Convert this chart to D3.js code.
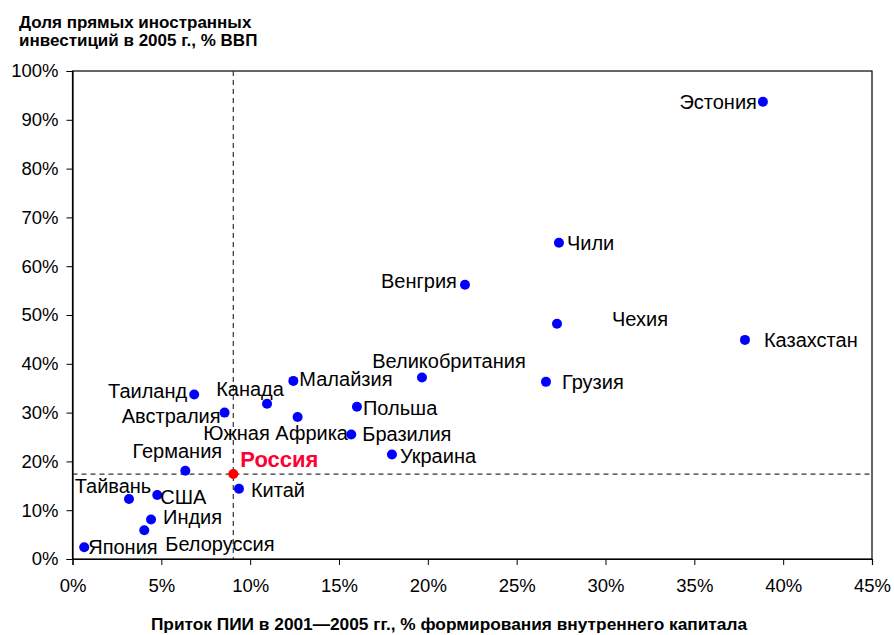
<!DOCTYPE html>
<html>
<head>
<meta charset="utf-8">
<script src="https://cdn.jsdelivr.net/npm/d3@7"></script>
<style>
  body { margin: 0; background: #fff; }
  svg { display: block; font-family: "Liberation Sans", Arial, sans-serif; }
</style>
</head>
<body>
<div id="chart"></div>
<script>
// Страны и значения (x — приток ПИИ 2001–2005, % формирования капитала; y — накопленные ПИИ 2005, % ВВП)
const countries = ['Эстония', 'Чили', 'Венгрия', 'Чехия', 'Казахстан', 'Великобритания', 'Грузия',
  'Малайзия', 'Таиланд', 'Канада', 'Австралия', 'Польша', 'Южная Африка', 'Бразилия', 'Украина',
  'Германия', 'Россия', 'Китай', 'США', 'Тайвань', 'Индия', 'Белоруссия', 'Япония'];
const inflowShare = [38.86, 27.38, 22.09, 27.27, 37.85, 19.67, 26.65,
  12.43, 6.85, 10.95, 8.56, 16.01, 12.67, 15.69, 17.98,
  6.35, 9.05, 9.37, 4.77, 3.18, 4.42, 4.04, 0.66];
const stockShare = [93.7, 64.8, 56.2, 48.2, 44.9, 37.2, 36.3,
  36.5, 33.7, 31.8, 30.0, 31.2, 29.1, 25.5, 21.4,
  18.1, 17.4, 14.4, 13.1, 12.3, 8.1, 5.9, 2.4];
const highlight = 'Россия';
const xTicks = [0, 5, 10, 15, 20, 25, 30, 35, 40, 45];
const yTicks = [0, 10, 20, 30, 40, 50, 60, 70, 80, 90, 100];
const yTitle = ['Доля прямых иностранных', 'инвестиций в 2005 г., % ВВП'];
const xTitle = 'Приток ПИИ в 2001—2005 гг., % формирования внутреннего капитала';

// размещение подписей: [dx, dy, якорь]
const labelPos = {
  'Эстония': [-6, 0, 'end'], 'Чили': [8, 0, 'start'], 'Венгрия': [-8, -4, 'end'],
  'Чехия': [55, -5, 'start'], 'Казахстан': [19, 0, 'start'], 'Великобритания': [27, -16, 'middle'],
  'Грузия': [16, 0, 'start'], 'Малайзия': [6, -2, 'start'], 'Таиланд': [-7, -4, 'end'],
  'Канада': [-17, -15, 'middle'], 'Австралия': [-4, 3, 'end'], 'Польша': [6, 1, 'start'],
  'Южная Африка': [-22, 16, 'middle'], 'Бразилия': [11, -1, 'start'], 'Украина': [8, 1, 'start'],
  'Германия': [-8, -20, 'middle'], 'Россия': [7, -15, 'start'], 'Китай': [12, 1, 'start'],
  'США': [3, 2, 'start'], 'Тайвань': [-16, -13, 'middle'], 'Индия': [12, -2, 'start'],
  'Белоруссия': [21, 14, 'start'], 'Япония': [4, 0, 'start']
};

const width = 894, height = 635;
const margin = { top: 71, right: 22, bottom: 76, left: 72.5 };

const svg = d3.select('#chart').append('svg')
  .attr('width', width)
  .attr('height', height);

const x = d3.scaleLinear().domain([0, 45]).range([margin.left, width - margin.right]);
const y = d3.scaleLinear().domain([0, 100]).range([height - margin.bottom, margin.top]);

const points = countries.map((c, i) => ({ name: c, x: inflowShare[i], y: stockShare[i] }));
const rus = points.find(p => p.name === highlight);

// рамка
svg.append('rect')
  .attr('x', x(0)).attr('y', y(100))
  .attr('width', x(45) - x(0)).attr('height', y(0) - y(100))
  .attr('fill', 'none').attr('stroke', '#000').attr('stroke-width', 1.2);

// пунктир через Россию
svg.append('line')
  .attr('x1', x(rus.x)).attr('x2', x(rus.x))
  .attr('y1', y(100)).attr('y2', y(0))
  .attr('stroke', '#333').attr('stroke-width', 1.2).attr('stroke-dasharray', '5,4');
svg.append('line')
  .attr('x1', x(0)).attr('x2', x(45))
  .attr('y1', y(rus.y)).attr('y2', y(rus.y))
  .attr('stroke', '#333').attr('stroke-width', 1.2).attr('stroke-dasharray', '5,4');

// оси
const xAxis = svg.append('g')
  .attr('transform', `translate(0,${y(0)})`)
  .call(d3.axisBottom(x).tickValues(xTicks).tickSize(6).tickPadding(14).tickFormat(d => d + '%'));
const yAxis = svg.append('g')
  .attr('transform', `translate(${x(0)},0)`)
  .call(d3.axisLeft(y).tickValues(yTicks).tickSize(6).tickPadding(8).tickFormat(d => d + '%'));
[xAxis, yAxis].forEach(g => {
  g.select('.domain').attr('stroke', '#000').attr('stroke-width', 1.2);
  g.selectAll('.tick line').attr('stroke', '#000');
  g.selectAll('.tick text')
    .attr('font-family', '"Liberation Sans", Arial, sans-serif')
    .attr('font-size', 18.5).attr('fill', '#000');
});

// точки
svg.selectAll('circle.pt')
  .data(points)
  .enter().append('circle')
  .attr('class', 'pt')
  .attr('cx', d => x(d.x))
  .attr('cy', d => y(d.y))
  .attr('r', 5)
  .attr('fill', d => d.name === highlight ? '#ff0000' : '#0000ff');

// подписи
svg.selectAll('text.lbl')
  .data(points)
  .enter().append('text')
  .attr('class', 'lbl')
  .attr('x', d => x(d.x) + labelPos[d.name][0])
  .attr('y', d => y(d.y) + labelPos[d.name][1])
  .attr('dy', '0.35em')
  .attr('text-anchor', d => labelPos[d.name][2])
  .attr('font-size', d => d.name === highlight ? 22 : 20)
  .attr('font-weight', d => d.name === highlight ? 'bold' : 'normal')
  .attr('fill', d => d.name === highlight ? '#ff0033' : '#000')
  .text(d => d.name);

// заголовки осей
svg.append('text')
  .attr('x', 19).attr('y', 28)
  .attr('font-size', 17).attr('font-weight', 'bold')
  .selectAll('tspan')
  .data(yTitle)
  .enter().append('tspan')
  .attr('x', 19)
  .attr('dy', (d, i) => i === 0 ? 0 : 18)
  .text(d => d);

svg.append('text')
  .attr('x', 449).attr('y', 630)
  .attr('text-anchor', 'middle')
  .attr('font-size', 17.3).attr('font-weight', 'bold')
  .text(xTitle);
</script>
</body>
</html>
